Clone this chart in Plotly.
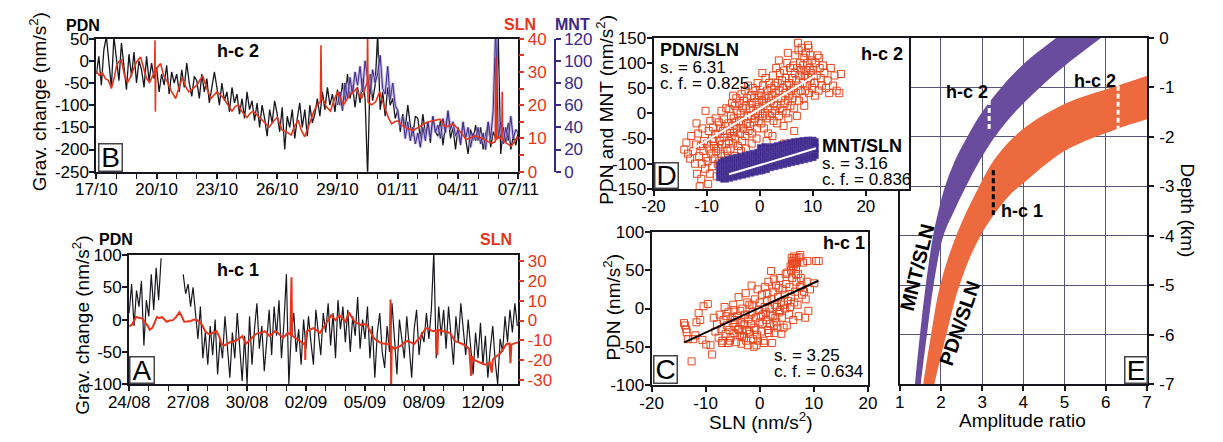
import pandas as pd
import plotly.graph_objects as go

W, H = 1223, 442
FONT = "Liberation Sans, Arial, Helvetica, sans-serif"
BLACK = "#16161e"
RED = "#e8341a"
PURPLE_DARK = "#3b2886"
PURPLE_HALO = "#b3a3da"
SCAT_ORANGE = "#e9471e"
SCAT_PURPLE = "#3f2a8c"
SCAT_PURPLE_EDGE = "#5a46a2"
BAND_PURPLE = "#6a4c9e"
BAND_ORANGE = "#ec6a3e"
GRID = "#56567c"


def px(x):
    return x / W


def py(y):
    return 1 - y / H


# ------------------------------------------------------------------ data
# Panel B (h-c 2): 17/10 - 07/11, PDN every 3 h
b_start = "2012-10-17"
b_pdn = [
    -30, 10, -55, 25, 55, -10, -60, 55,
    5, -45, 40, -20, -65, 15, -35, 20,
    -50, 0, -20, -60, 10, -45, -5, -40,
    -15, -70, -30, -55, -10, -75, -25, -50,
    -30, -70, -20, -60, -5, -50, -80, -35,
    -45, -85, -30, -70, -40, -95, -55, -25,
    -60, -100, -50, -90, -70, -115, -60, -95,
    -75, -120, -85, -130, -70, -110, -90, -135,
    -95, -150, -100, -130, -170, -110, -140, -90,
    -120, -160, -105, -200, -125, -150, -110, -175,
    -130, -95, -150, -110, -170, -100, -140, -120,
    -85, -125, -70, -110, -60, -100, -75, -115,
    -65, -100, -50, -90, -30, -85, -55, -105,
    -60, -95, -40, -85, -260, -30, -90, -55,
    60, -110, -70, -125, -60, -100, -85, -130,
    -110, -160, -120, -150, -100, -145, -170, -125,
    -130, -175, -120, -165, -140, -185, -125, -160,
    -170, -135, -190, -145, -120, -175, -150, -200,
    -150, -190, -140, -175, -210, -155, -180, -145,
    -180, -150, -200, -165, -140, -195, -160, -175,
    60, -210, -150, -185, -140, -200, -170, -190,
    -160,
]
b_sln_days = [
    0.00, 0.15, 0.30, 0.45, 0.60, 0.75, 0.90, 1.00, 1.10, 1.25, 1.40, 1.55, 1.70, 1.85,
    2.00, 2.20, 2.35, 2.50, 2.65, 2.80, 2.90, 2.92, 2.94, 2.96, 3.05, 3.20, 3.35, 3.55,
    3.75, 3.95, 4.10, 4.28, 4.45, 4.60, 4.80, 5.00, 5.15, 5.30, 5.50, 5.70, 5.85, 6.00,
    6.20, 6.35, 6.55, 6.75, 6.90, 7.07, 7.25, 7.50, 7.65, 7.80, 8.00, 8.20, 8.40, 8.60,
    8.80, 9.00, 9.25, 9.45, 9.70, 9.85, 10.05, 10.20, 10.37, 10.55, 10.70, 10.85, 11.00,
    11.15, 11.18, 11.21, 11.30, 11.45, 11.65, 11.80, 12.00, 12.15, 12.30, 12.45, 12.60,
    12.80, 12.95, 13.10, 13.20, 13.35, 13.42, 13.48, 13.50, 13.52, 13.60, 13.70, 13.90,
    14.10, 14.25, 14.40, 14.55, 14.70, 14.85, 15.00, 15.20, 15.35, 15.55, 15.80, 16.05,
    16.30, 16.55, 16.80, 17.10, 17.25, 17.40, 17.60, 17.75, 17.90, 18.05, 18.25, 18.40,
    18.55, 18.70, 18.85, 19.00, 19.20, 19.35, 19.50, 19.70, 19.85, 19.88, 19.91, 20.00,
    20.10, 20.18, 20.20, 20.22, 20.40, 20.55, 20.65, 20.80, 20.95, 21.00,
]
b_sln = [
    30.2, 29.0, 29.8, 28.0, 27.5, 25.0, 28.5, 31.6, 33.0, 33.6, 29.0, 26.8, 28.5, 31.0,
    33.0, 34.5, 31.0, 28.0, 26.8, 28.5, 30.0, 39.5, 18.0, 30.0, 31.5, 32.5, 29.0, 26.8,
    24.0, 22.0, 25.0, 28.3, 25.5, 24.0, 25.0, 26.0, 27.5, 28.8, 25.0, 22.0, 23.0, 24.0,
    23.0, 22.0, 20.0, 18.2, 19.5, 20.1, 18.0, 16.3, 17.5, 18.2, 17.0, 15.8, 14.5, 13.4,
    15.0, 16.3, 12.5, 12.0, 11.0, 13.5, 15.5, 12.5, 10.5, 13.5, 16.3, 18.5, 20.1,
    21.0, 38.0, 22.0, 21.5, 19.5, 18.2, 21.0, 24.0, 22.0, 20.1, 21.5, 23.0,
    24.0, 25.0, 23.0, 22.0, 24.5, 25.9, 27.0, 45.0, 21.0, 20.5, 20.1, 21.0,
    24.0, 21.0, 18.2, 16.0, 14.4, 15.0, 15.3, 14.0, 13.4, 12.8, 12.5, 13.5,
    14.4, 15.0, 15.3, 15.8, 14.5, 13.4, 14.0, 14.4, 13.5, 12.5, 11.0, 9.6,
    10.0, 10.5, 10.8, 10.5, 10.0, 9.6, 9.0, 8.6, 9.0, 34.5, 9.5, 10.5,
    10.0, 10.5, 24.0, 9.5, 8.6, 8.0, 7.7, 9.0, 10.5, 10.5,
]
b_mnt_start_day = 12
b_mnt = [
    60, 72, 55, 80, 66, 85, 70, 90,
    78, 95, 72, 100, 85, 70, 92, 80,
    88, 105, 75, 70, 95, 65, 80, 60,
    55, 40, 50, 30, 45, 28, 40, 25,
    35, 22, 40, 28, 45, 30, 50, 35,
    42, 30, 48, 35, 55, 38, 45, 32,
    38, 25, 45, 30, 40, 22, 35, 28,
    40, 25, 35, 20, 45, 30, 55, 130,
    30, 45, 25, 40, 28, 50, 30, 38,
    35,
]
b_tick_days = [0, 3, 6, 9, 12, 15, 18, 21]
b_tick_labels = ["17/10", "20/10", "23/10", "26/10", "29/10", "01/11", "04/11", "07/11"]
b_pdn_ticks = [-250, -200, -150, -100, -50, 0, 50]
b_sln_ticks = [0, 10, 20, 30, 40]
b_mnt_ticks = [0, 20, 40, 60, 80, 100, 120]

# Panel A (h-c 1): 24/08 - 12/09, PDN every 3 h (None = gap)
a_start = "2012-08-24"
a_pdn = [
    10, 55, -10, 45, 20, 60, -40, 30,
    5, 70, 15, 80, 30, 95, None, None,
    None, None, None, None, None, None, 70, 40,
    55, 20, 50, 10, -30, 20, -60, -20,
    -70, -10, -55, 0, -85, -30, -60, 5,
    -40, -90, -20, -60, 10, -50, -95, -25,
    -100, 5, -70, -15, 25, -45, -10, -80,
    -30, 15, -55, 20, -25, 30, -60, -5,
    70, -100, -20, 10, -50, -15, -70, 0,
    -45, 5, -35, -70, 15, -25, -55, 10,
    -20, 25, -40, 10, -60, 30, -15, 20,
    -35, 15, -50, 5, -25, 35, -45, 0,
    -30, 20, -60, -10, -90, -20, 10, -50,
    -75, -10, -50, 25, -40, -85, 0, -30,
    -60, 5, -45, -90, -15, 15, -55, -20,
    -35, 10, -30, 15, 105, -60, 20, -25,
    15, -45, 20, -20, -70, 5, -35, 25,
    -15, -55, 0, -40, -85, -20, -60, -5,
    -70, -25, -90, -45, -10, -65, -100, -30,
    -50, 5, -35, 15, -20, 25, -10,
]
a_sln_days = [
    0.00, 0.15, 0.35, 0.50, 0.67, 0.80, 0.92, 1.05, 1.17, 1.30, 1.41, 1.55, 1.66, 1.80,
    1.90, 2.05, 2.23, 2.40, 2.56, 2.68, 2.80, 2.95, 3.13, 3.30, 3.46, 3.60, 3.71, 3.87,
    4.00, 4.12, 4.28, 4.45, 4.60, 4.70, 4.85, 5.10, 5.25, 5.43, 5.60, 5.76, 5.93, 6.10,
    6.26, 6.42, 6.58, 6.75, 6.91, 7.05, 7.16, 7.30, 7.41, 7.55, 7.65, 7.82, 7.95, 8.06,
    8.20, 8.26, 8.29, 8.40, 8.55, 8.72, 8.88, 8.95, 8.96, 8.98, 9.04, 9.20, 9.37, 9.55,
    9.70, 9.85, 10.00, 10.15, 10.28, 10.40, 10.50, 10.60, 10.69, 10.85, 11.00, 11.10,
    11.18, 11.30, 11.50, 11.65, 11.77, 11.95, 12.10, 12.25, 12.42, 12.60, 12.75, 12.92,
    13.08, 13.25, 13.30, 13.33, 13.36, 13.50, 13.65, 13.83, 14.00, 14.16, 14.33, 14.50,
    14.65, 14.80, 14.95, 15.10, 15.25, 15.45, 15.60, 15.68, 15.72, 15.95, 16.10, 16.30,
    16.45, 16.55, 16.75, 16.96, 17.15, 17.30, 17.40, 17.44, 17.55, 17.70, 17.88, 18.05,
    18.20, 18.35, 18.45, 18.50, 18.55, 18.70, 18.87, 19.05, 19.20, 19.35, 19.40, 19.45,
    19.60, 19.78,
]
a_sln = [
    -3.0, -2.0, 1.8, 1.5, 1.0, -1.0, -2.2, -4.6, -3.8, -1.0, 1.8, 1.2, 1.8, 0.5,
    -0.6, 0.0, 0.2, 2.0, 4.2, 2.0, -0.6, -0.5, -0.2, 0.5, 0.2, -1.0, -2.2, -5.4,
    -6.5, -7.0, -6.0, -5.4, -8.5, -11.8, -12.5, -11.0, -10.5, -10.2, -9.0, -7.8, -11.8, -10.0,
    -8.6, -7.0, -6.2, -6.0, -5.4, -6.5, -7.8, -6.5, -5.4, -6.0, -7.0, -8.6, -7.5, -6.2,
    -7.0, 21.8, -7.5, -8.5, -9.4, -10.5, -11.8, -11.0, -19.8, -10.0, -5.4, -4.5, -3.8, -5.0,
    -6.2, -4.0, -1.4, 0.5, 2.6, 1.0, 0.2, 1.5, 2.6, 1.0, -0.6, 2.0,
    4.2, 2.0, -0.9, -1.5, -2.2, -1.8, -2.2, -5.0, -8.6, -10.0, -11.0, -11.5,
    -11.8, -12.0, 10.6, -32.5, -13.0, -14.2, -13.5, -12.6, -11.0, -10.2, -11.0, -11.8,
    -10.0, -8.6, -6.0, -3.8, -4.2, -5.4, -5.0, -17.4, -4.6, -5.4, -5.5, -6.2,
    -8.0, -10.2, -11.0, -11.8, -13.0, -14.2, -27.8, -18.0, -19.8, -20.5, -21.4, -22.0,
    -22.2, -21.0, -26.2, -20.0, -19.0, -18.0, -16.6, -14.0, -11.8, -11.5, -21.4, -12.0,
    -11.5, -11.0,
]
a_tick_days = [0, 3, 6, 9, 12, 15, 18]
a_tick_labels = ["24/08", "27/08", "30/08", "02/09", "05/09", "08/09", "12/09"]
a_pdn_ticks = [-100, -50, 0, 50, 100]
a_sln_ticks = [-30, -20, -10, 0, 10, 20, 30]

# Panel D (h-c 2 scatter): PDN vs SLN and MNT vs SLN
d_pdn_x = [
    -14.2, -13.8, -13.5, -13.1, -12.9, -12.5, -12.2, -12.0,
    -11.9, -11.8, -11.6, -11.4, -11.3, -11.1, -11.0, -10.9, -10.8, -10.6, -10.5, -10.3, -10.2, -10.1,
    -9.9, -9.8, -9.7, -9.6, -9.5, -9.4, -9.3, -9.1, -9.0, -8.9, -8.8, -8.7, -8.6, -8.5, -8.4, -8.3, -8.2, -8.1,
    -7.9, -7.9, -7.8, -7.7, -7.6, -7.5, -7.4, -7.3, -7.2, -7.1, -7.0, -6.9, -6.8, -6.7, -6.6, -6.6, -6.5, -6.4, -6.3, -6.2, -6.1,
    -5.9, -5.8, -5.7, -5.6, -5.6, -5.5, -5.4, -5.3, -5.2, -5.1, -5.0, -5.0, -4.9, -4.8, -4.7, -4.6, -4.6, -4.5, -4.4, -4.3, -4.2, -4.1,
    -3.9, -3.8, -3.7, -3.6, -3.5, -3.5, -3.4, -3.3, -3.2, -3.1, -3.0, -2.9, -2.8, -2.7, -2.6, -2.6, -2.5, -2.4, -2.3, -2.2, -2.1,
    -1.9, -1.8, -1.7, -1.6, -1.5, -1.5, -1.4, -1.3, -1.2, -1.1, -1.0, -0.9, -0.8, -0.7, -0.6, -0.6, -0.5, -0.4, -0.3, -0.2, -0.1,
    0.1, 0.2, 0.3, 0.4, 0.5, 0.5, 0.6, 0.7, 0.8, 0.9, 1.0, 1.1, 1.2, 1.3, 1.3, 1.4, 1.5, 1.6, 1.7, 1.8, 1.9,
    2.1, 2.2, 2.3, 2.4, 2.4, 2.5, 2.6, 2.7, 2.8, 2.9, 3.0, 3.1, 3.2, 3.3, 3.4, 3.5, 3.6, 3.6, 3.7, 3.8, 3.9,
    4.1, 4.2, 4.3, 4.4, 4.5, 4.6, 4.6, 4.7, 4.8, 4.9, 5.0, 5.1, 5.2, 5.3, 5.3, 5.4, 5.5, 5.6, 5.7, 5.8, 5.9,
    6.1, 6.2, 6.3, 6.4, 6.5, 6.5, 6.6, 6.7, 6.8, 6.9, 7.0, 7.1, 7.2, 7.2, 7.3, 7.4, 7.5, 7.6, 7.7, 7.8, 7.9,
    8.1, 8.2, 8.3, 8.4, 8.4, 8.5, 8.6, 8.7, 8.8, 8.9, 9.0, 9.1, 9.1, 9.2, 9.3, 9.4, 9.5, 9.6, 9.7, 9.8, 9.9,
    10.1, 10.3, 10.4, 10.5, 10.7, 10.9, 11.1, 11.2, 11.3, 11.5, 11.7, 11.9,
    12.2, 12.5, 12.8, 13.1, 13.4, 13.8, 14.1, 14.5, 15.0, 15.3,
]
d_pdn_y = [
    -72, -58, -80, -90, -45, -75, -100, -62,
    -20, -120, -40, -85, -145, -65, -130, -100, -30, -75, -55, -110, 5, -88,
    -60, -95, -140, -35, -70, -120, -15, -80, -50, -105, -28, -55, -65, -90, -42, -10, -75, -125,
    -40, -100, -70, -18, -95, -55, -30, -80, 5, -62, -110, -35, -48, -12, -85, -120, -25, -60, 10, -40, -75,
    -20, -55, 8, -35, -95, -70, -5, -45, 20, -25, -60, 35, -10, -38, 15, -50, -85, -18, 30, -30, 5, -65,
    -15, 20, -40, 0, -22, -75, 38, -55, 10, -30, 25, -8, 45, -45, 15, -70, -20, 30, -5, 55, -35,
    10, -25, 35, -5, 20, -60, -40, 50, 5, -18, 30, -10, 45, 0, 22, -50, -30, 60, 12, -15, 35,
    5, 40, -20, 25, -5, 80, 55, 15, -30, 35, 0, 70, 20, -10, -55, 45, 10, -40, 30, 60, -5,
    25, 50, 0, 35, -45, 75, -15, 20, 55, 5, 40, 90, 15, -20, 60, 30, -5, 105, 45, 80, 10,
    30, 65, 5, 50, -25, 85, -60, 20, 40, 70, 0, 55, 100, 25, 120, -10, 60, 35, 90, 15, 45,
    70, 30, 95, 50, 10, -35, 80, 115, 40, 65, -5, 90, 55, 140, 125, 25, 75, 100, 45, 85, 130,
    60, 95, 30, 110, 15, 75, 45, 120, 85, 55, 100, 70, 135, 130, 40, 90, 115, 65, 80, 105, 50,
    85, 60, 35, 100, 75, 115, 45, 110, 90, 70, 55, 95,
    80, 50, 65, 40, 90, 55, 75, 45, 40, 78,
]
d_mnt_x = [
    -7.4, -7.4, -7.4, -7.0, -7.0, -7.0, -6.6, -6.6, -6.6, -6.6, -6.2, -6.2, -6.2,
    -5.8, -5.8, -5.8, -5.8, -5.4, -5.4, -5.4, -5.0, -5.0, -5.0, -5.0, -4.6, -4.6, -4.6,
    -4.2, -4.2, -4.2, -4.2, -3.8, -3.8, -3.8, -3.4, -3.4, -3.4, -3.4, -3.0, -3.0, -3.0,
    -2.6, -2.6, -2.6, -2.6, -2.2, -2.2, -2.2, -1.8, -1.8, -1.8, -1.8, -1.4, -1.4, -1.4,
    -1.0, -1.0, -1.0, -1.0, -0.6, -0.6, -0.6, -0.2, -0.2, -0.2, -0.2,
    0.3, 0.3, 0.3, 0.3, 0.7, 0.7, 0.7, 1.1, 1.1, 1.1, 1.1, 1.5, 1.5, 1.5,
    1.9, 1.9, 1.9, 1.9, 2.3, 2.3, 2.3, 2.7, 2.7, 2.7, 2.7, 3.1, 3.1, 3.1,
    3.5, 3.5, 3.5, 3.5, 3.9, 3.9, 3.9, 4.3, 4.3, 4.3, 4.3, 4.7, 4.7, 4.7,
    5.1, 5.1, 5.1, 5.1, 5.5, 5.5, 5.5, 5.9, 5.9, 5.9, 5.9, 6.3, 6.3, 6.3,
    6.7, 6.7, 6.7, 6.7, 7.1, 7.1, 7.1, 7.5, 7.5, 7.5, 7.5, 7.9, 7.9, 7.9,
    8.3, 8.3, 8.3, 8.3, 8.7, 8.7, 8.7, 9.1, 9.1, 9.1, 9.1, 9.5, 9.5, 9.5,
    9.9, 9.9, 9.9, 9.9, 10.3, 10.3, 10.3,
]
d_mnt_y = [
    -126, -115, -104, -126, -112, -99, -129, -119, -106, -96, -124, -110, -96,
    -127, -116, -104, -93, -122, -109, -95, -125, -114, -102, -91, -120, -107, -94,
    -123, -112, -100, -89, -118, -105, -92, -121, -110, -98, -87, -116, -103, -90,
    -119, -108, -96, -85, -114, -101, -88, -117, -106, -94, -83, -112, -99, -86,
    -115, -104, -92, -81, -110, -97, -84, -113, -102, -90, -79,
    -112, -98, -84, -70, -108, -94, -78, -110, -96, -82, -68, -104, -90, -76,
    -106, -94, -82, -70, -102, -89, -76, -104, -92, -80, -68, -100, -87, -74,
    -102, -90, -78, -66, -98, -85, -72, -100, -88, -76, -64, -96, -83, -70,
    -98, -86, -74, -62, -94, -81, -68, -96, -84, -72, -60, -92, -79, -66,
    -94, -82, -70, -58, -90, -77, -64, -92, -80, -68, -57, -88, -75, -62,
    -90, -78, -66, -56, -86, -73, -60, -88, -76, -64, -55, -84, -71, -59,
    -86, -74, -62, -55, -82, -70, -58,
]
d_pdn_fit_x = [-12.55, 10.6]
d_pdn_fit_y = [-70.3, 75.8]
d_mnt_fit_x = [-5.76, 10.6]
d_mnt_fit_y = [-121.0, -69.3]
d_x_ticks = [-20, -10, 0, 10, 20]
d_y_ticks = [-150, -100, -50, 0, 50, 100, 150]

# Panel C (h-c 1 scatter): PDN vs SLN
c_x = [
    -14.0, -13.8, -13.6, -13.5, -13.3, -12.6, -12.3, -11.9, -11.7, -11.3, -11.0, -10.6, -10.4, -9.9, -9.6, -9.1, -8.8, -8.5, -8.2, -7.9,
    -7.6, -7.4, -7.1, -7.0, -6.9, -6.7, -6.5, -6.3, -6.2, -6.1, -5.9, -5.8, -5.6, -5.5, -5.4, -5.2, -5.0, -4.9, -4.8, -4.7,
    -4.6, -4.5, -4.4, -4.2, -4.0, -3.9, -3.8, -3.7, -3.6, -3.5, -3.4, -3.3, -3.2, -3.0, -2.9, -2.8, -2.7, -2.6, -2.5, -2.4,
    -2.3, -2.2, -2.1, -2.0, -1.9, -1.8, -1.7, -1.6, -1.5, -1.4, -1.3, -1.2, -1.1, -1.0, -0.9, -0.8, -0.7, -0.6, -0.5, -0.4,
    -0.3, -0.2, 0.0, 0.1, 0.2, 0.3, 0.4, 0.5, 0.6, 0.7, 0.8, 0.9, 1.0, 1.1, 1.2, 1.3, 1.4, 1.5, 1.6, 1.7,
    1.8, 1.9, 2.0, 2.1, 2.2, 2.3, 2.4, 2.5, 2.6, 2.6, 2.7, 2.8, 2.9, 3.0, 3.1, 3.2, 3.3, 3.4, 3.5, 3.6,
    3.7, 3.8, 3.9, 4.0, 4.1, 4.2, 4.4, 4.5, 4.6, 4.7, 4.8, 4.9, 5.0, 5.1, 5.2, 5.4, 5.5, 5.6, 5.7, 5.8,
    5.9, 6.0, 6.1, 6.2, 6.3, 6.4, 6.4, 6.5, 6.6, 6.7, 6.7, 6.8, 6.9, 7.0, 7.1, 7.2, 7.3, 7.4, 7.6, 7.7,
    7.8, 8.0, 8.2, 8.4, 8.5, 8.7, 8.8, 9.0, 9.3, 10.1, 10.4, 10.9, 6.2, 6.5, 6.8, 7.5, 5.8, 6.0,
]
c_y = [
    -19, -22, -27, -31, -40, -69, -40, -35, -18, -6, -15, -41, 3, -47, 6, -48, -60, -12, -30, -20,
    -38, -8, -27, -45, -42, -15, 2, -33, -10, -22, -45, -5, -28, -42, -38, -12, -19, 5, -2, -32,
    -15, -24, -44, -10, -27, 15, -28, -35, -3, -18, -46, -36, 0, -22, -38, -20, -8, 20, -42, -28,
    8, -48, -14, -30, 5, -33, -8, -20, 30, 5, -5, -40, -50, -25, 12, -28, -12, -48, -35, 25,
    -42, -2, -18, 8, -10, -30, 18, -20, -8, -42, -45, 2, 28, -5, -15, 10, 20, -28, 35, -32,
    0, -20, -8, 49, 12, -45, -10, 22, -22, 38, -32, 5, -12, 30, -18, 2, -25, 15, 27, -5,
    40, -2, 8, -33, -12, 25, -25, 5, 18, 0, 45, 32, -22, 47, 10, -8, 28, 2, 55, 15,
    66, 40, 62, -15, 68, 58, 8, 22, 64, 52, 45, 35, 60, 5, 45, -10, 67, 28, 40, 30,
    18, 60, 22, -12, 12, 35, 62, -3, 25, 33, 62, 62, 55, 60, 66, 70, 50, 58,
]
c_fit_x = [-13.95, 10.85]
c_fit_y = [-44.2, 36.3]
c_x_ticks = [-20, -10, 0, 10, 20]
c_y_ticks = [-100, -50, 0, 50, 100]

# Panel E: amplitude ratio vs source depth bands
e_mnt_depth = [0.4, 0.0, -0.55, -1.0, -1.5, -2.0, -2.5, -3.0, -3.5, -4.0, -5.0, -6.0, -7.0, -7.5]
e_mnt_left = [5.45, 4.80, 3.98, 3.47, 3.00, 2.64, 2.33, 2.10, 1.94, 1.81, 1.63, 1.49, 1.37, 1.32]
e_mnt_right = [6.55, 5.89, 5.03, 4.41, 3.80, 3.31, 2.93, 2.61, 2.32, 2.06, 1.82, 1.66, 1.51, 1.45]
e_pdn_upper_depth = [-0.3, -0.77, -0.97, -1.32, -1.84, -2.4, -3.0, -4.0, -5.0, -6.0, -7.0, -7.5]
e_pdn_upper_x = [8.6, 7.0, 6.29, 5.05, 4.0, 3.35, 2.93, 2.37, 1.98, 1.76, 1.57, 1.49]
e_pdn_lower_depth = [-1.3, -1.65, -1.84, -2.29, -2.94, -3.19, -4.0, -5.0, -6.0, -7.0, -7.5]
e_pdn_lower_x = [8.3, 7.0, 6.29, 5.0, 4.0, 3.66, 2.96, 2.45, 2.13, 1.84, 1.72]
e_mark_x = [3.17, 6.30, 3.27]
e_mark_top = [-1.26, -0.97, -2.68]
e_mark_bottom = [-1.87, -1.84, -3.58]
e_mark_color = ["white", "white", "black"]
e_x_ticks = [1, 2, 3, 4, 5, 6, 7]
e_y_ticks = [-7, -6, -5, -4, -3, -2, -1, 0]

# axis ranges (layout)
D_XRANGE = [-20, 28.2]
D_YRANGE = [-150, 150]

# ------------------------------------------------------------------ helpers
DAY_MS = 86400000


def days_to_dates(start, days):
    t0 = pd.Timestamp(start)
    return [(t0 + pd.Timedelta(days=d)).strftime("%Y-%m-%d %H:%M:%S") for d in days]


def regular_dates(start, n, offset_days=0):
    t0 = pd.Timestamp(start) + pd.Timedelta(days=offset_days)
    return [t.strftime("%Y-%m-%d %H:%M:%S") for t in pd.date_range(t0, periods=n, freq="3h")]


def labels(vals):
    return [str(v) for v in vals]


tickfont = dict(family=FONT, size=17, color="black")
box_axis = dict(showline=True, linecolor=BLACK, linewidth=2, mirror=True, ticks="outside",
                ticklen=5, tickwidth=1.5, tickcolor=BLACK, showgrid=False, zeroline=False,
                tickfont=tickfont)
XSTAND = -4   # tick labels sit close to the axis, as in the reference
YSTAND = -3

fig = go.Figure()

# ---- Panel E (xy) ----
fig.add_trace(go.Scatter(
    x=e_mnt_left + e_mnt_right[::-1], y=e_mnt_depth + e_mnt_depth[::-1],
    fill="toself", fillcolor=BAND_PURPLE, mode="lines", line=dict(width=0, shape="spline"),
    xaxis="x", yaxis="y", hoverinfo="skip"))
fig.add_trace(go.Scatter(
    x=e_pdn_upper_x + e_pdn_lower_x[::-1], y=e_pdn_upper_depth + e_pdn_lower_depth[::-1],
    fill="toself", fillcolor=BAND_ORANGE, mode="lines", line=dict(width=0, shape="spline"),
    xaxis="x", yaxis="y", hoverinfo="skip"))
for mx, mt, mb, mc in zip(e_mark_x, e_mark_top, e_mark_bottom, e_mark_color):
    fig.add_trace(go.Scatter(x=[mx, mx], y=[mt, mb], mode="lines",
                             line=dict(color=mc, width=3, dash="5px,3px"),
                             xaxis="x", yaxis="y", hoverinfo="skip"))

# ---- Panel B ----
fig.add_trace(go.Scatter(x=regular_dates(b_start, len(b_pdn)), y=b_pdn, mode="lines",
                         line=dict(color=BLACK, width=1.3), xaxis="x2", yaxis="y2", hoverinfo="skip"))
b_mnt_t = regular_dates(b_start, len(b_mnt), b_mnt_start_day)
fig.add_trace(go.Scatter(x=b_mnt_t, y=b_mnt, mode="lines",
                         line=dict(color=PURPLE_HALO, width=3), opacity=0.75,
                         xaxis="x2", yaxis="y3", hoverinfo="skip"))
fig.add_trace(go.Scatter(x=b_mnt_t, y=b_mnt, mode="lines",
                         line=dict(color=PURPLE_DARK, width=1), xaxis="x2", yaxis="y3", hoverinfo="skip"))
fig.add_trace(go.Scatter(x=days_to_dates(b_start, b_sln_days), y=b_sln, mode="lines",
                         line=dict(color=RED, width=1.6), xaxis="x2", yaxis="y4", hoverinfo="skip"))

# ---- Panel A ----
fig.add_trace(go.Scatter(x=regular_dates(a_start, len(a_pdn)), y=a_pdn, mode="lines",
                         line=dict(color=BLACK, width=1.2), xaxis="x3", yaxis="y5", hoverinfo="skip"))
fig.add_trace(go.Scatter(x=days_to_dates(a_start, a_sln_days), y=a_sln, mode="lines",
                         line=dict(color=RED, width=2), xaxis="x3", yaxis="y6", hoverinfo="skip"))

# ---- Panel C ----
fig.add_trace(go.Scatter(x=c_x, y=c_y, mode="markers",
                         marker=dict(symbol="square-open", size=7, color=SCAT_ORANGE, line=dict(width=1)),
                         xaxis="x4", yaxis="y7", hoverinfo="skip"))
fig.add_trace(go.Scatter(x=c_fit_x, y=c_fit_y, mode="lines", line=dict(color="black", width=2),
                         xaxis="x4", yaxis="y7", hoverinfo="skip"))

# ---- Panel D (its white background hides panel E's grid underneath) ----
fig.add_trace(go.Scatter(x=[D_XRANGE[0], D_XRANGE[1], D_XRANGE[1], D_XRANGE[0]],
                         y=[D_YRANGE[0], D_YRANGE[0], D_YRANGE[1], D_YRANGE[1]],
                         fill="toself", fillcolor="white", mode="none",
                         xaxis="x5", yaxis="y8", hoverinfo="skip"))
fig.add_trace(go.Scatter(x=d_pdn_x, y=d_pdn_y, mode="markers",
                         marker=dict(symbol="square-open", size=7, color=SCAT_ORANGE, line=dict(width=1)),
                         xaxis="x5", yaxis="y8", hoverinfo="skip"))
fig.add_trace(go.Scatter(x=d_mnt_x, y=d_mnt_y, mode="markers",
                         marker=dict(symbol="square", size=8, color=SCAT_PURPLE,
                                     line=dict(width=0.6, color=SCAT_PURPLE_EDGE)),
                         xaxis="x5", yaxis="y8", hoverinfo="skip"))
fig.add_trace(go.Scatter(x=d_pdn_fit_x, y=d_pdn_fit_y, mode="lines", line=dict(color="white", width=2),
                         xaxis="x5", yaxis="y8", hoverinfo="skip"))
fig.add_trace(go.Scatter(x=d_mnt_fit_x, y=d_mnt_fit_y, mode="lines", line=dict(color="white", width=2),
                         xaxis="x5", yaxis="y8", hoverinfo="skip"))

# ------------------------------------------------------------------ axes
layout_axes = dict(
    # E
    xaxis=dict(box_axis, domain=[px(910), px(1166)], anchor="y", range=[1, 7],
               tickmode="array", tickvals=e_x_ticks, ticktext=labels(e_x_ticks),
               showgrid=True, gridcolor=GRID, gridwidth=1, ticklabelstandoff=XSTAND),
    yaxis=dict(box_axis, domain=[py(392), py(30)], anchor="x", range=[-7, 0], side="right",
               tickmode="array", tickvals=e_y_ticks, ticktext=labels(e_y_ticks),
               showgrid=True, gridcolor=GRID, gridwidth=1, ticklabelstandoff=2),
    # B
    xaxis2=dict(box_axis, domain=[px(78), px(515)], anchor="y2", type="date",
                range=days_to_dates(b_start, [0, 21]), ticklabelstandoff=XSTAND,
                tickmode="array", tickvals=days_to_dates(b_start, b_tick_days), ticktext=b_tick_labels,
                minor=dict(ticks="outside", ticklen=5, tickwidth=1.2, tickcolor=BLACK,
                           dtick=DAY_MS, tick0=b_start, showgrid=False)),
    yaxis2=dict(box_axis, domain=[py(170), py(31)], anchor="x2", range=[-250, 50],
                ticklabelstandoff=YSTAND,
                tickmode="array", tickvals=b_pdn_ticks, ticktext=labels(b_pdn_ticks)),
    yaxis3=dict(overlaying="y2", side="right", anchor="free", position=px(553), range=[0, 120],
                showline=True, linecolor=PURPLE_DARK, linewidth=1.5, ticks="outside", ticklen=5,
                tickwidth=1.5, tickcolor=PURPLE_DARK, showgrid=False, zeroline=False,
                tickmode="array", tickvals=b_mnt_ticks, ticktext=labels(b_mnt_ticks),
                tickfont=dict(family=FONT, size=17, color=PURPLE_DARK)),
    yaxis4=dict(overlaying="y2", side="right", anchor="x2", range=[0, 40],
                showline=False, ticks="outside", ticklen=5, tickwidth=1.5, tickcolor=RED,
                showgrid=False, zeroline=False,
                tickmode="array", tickvals=b_sln_ticks, ticktext=labels(b_sln_ticks),
                minor=dict(ticks="outside", ticklen=5, tickwidth=1.5, tickcolor=RED, dtick=5, showgrid=False),
                tickfont=dict(family=FONT, size=17, color=RED)),
    # A
    xaxis3=dict(box_axis, domain=[px(112), px(515)], anchor="y5", type="date",
                range=days_to_dates(a_start, [0, 19.8]), ticklabelstandoff=XSTAND,
                tickmode="array", tickvals=days_to_dates(a_start, a_tick_days), ticktext=a_tick_labels,
                minor=dict(ticks="outside", ticklen=5, tickwidth=1.2, tickcolor=BLACK,
                           dtick=DAY_MS, tick0=a_start, showgrid=False)),
    yaxis5=dict(box_axis, domain=[py(392), py(257)], anchor="x3", range=[-100, 100],
                ticklabelstandoff=YSTAND,
                tickmode="array", tickvals=a_pdn_ticks, ticktext=labels(a_pdn_ticks)),
    yaxis6=dict(overlaying="y5", side="right", anchor="x3", range=[-32, 33],
                showline=False, ticks="outside", ticklen=5, tickwidth=1.5, tickcolor=RED,
                showgrid=False, zeroline=False,
                tickmode="array", tickvals=a_sln_ticks, ticktext=labels(a_sln_ticks),
                tickfont=dict(family=FONT, size=17, color=RED)),
    # C
    xaxis4=dict(box_axis, domain=[px(653), px(877)], anchor="y7", range=[-20, 20],
                ticklabelstandoff=XSTAND,
                tickmode="array", tickvals=c_x_ticks, ticktext=labels(c_x_ticks)),
    yaxis7=dict(box_axis, domain=[py(393), py(233)], anchor="x4", range=[-100, 100],
                ticklabelstandoff=YSTAND,
                tickmode="array", tickvals=c_y_ticks, ticktext=labels(c_y_ticks)),
    # D
    xaxis5=dict(box_axis, domain=[px(655), px(920)], anchor="y8", range=D_XRANGE,
                ticklabelstandoff=XSTAND,
                tickmode="array", tickvals=d_x_ticks, ticktext=labels(d_x_ticks)),
    yaxis8=dict(box_axis, domain=[py(188), py(30)], anchor="x5", range=D_YRANGE,
                ticklabelstandoff=YSTAND,
                tickmode="array", tickvals=d_y_ticks, ticktext=labels(d_y_ticks)),
)

# ------------------------------------------------------------------ texts
anns = []


def text(t, x, y, size=17, bold=False, color="black", xanchor="center", angle=0,
         xref="paper", yref="paper"):
    if bold:
        t = "<b>" + t + "</b>"
    if xref == "paper":
        x = px(x)
    if yref == "paper":
        y = py(y)
    anns.append(dict(text=t, x=x, y=y, xref=xref, yref=yref, xanchor=xanchor, yanchor="middle",
                     textangle=angle, showarrow=False,
                     font=dict(family=FONT, size=size, color=color)))


def letter(ch, x0, y0, x1, y1):
    anns.append(dict(text=ch, x=px(x0), y=py(y1), xref="paper", yref="paper",
                     xanchor="left", yanchor="bottom", width=x1 - x0 - 2, height=y1 - y0 - 2,
                     align="center", valign="middle", showarrow=False, bgcolor="white",
                     bordercolor="#444444", borderwidth=1.5, borderpad=0,
                     font=dict(family=FONT, size=28, color="black")))


# axis titles
text("Grav. change (nm/s<sup>2</sup>)", 17, 97, size=19, angle=-90)
text("Grav. change (nm/s<sup>2</sup>)", 62, 330, size=19, angle=-90)
text("PDN and MNT (nm/s<sup>2</sup>)", 605, 105, size=19, angle=-90)
text("PDN (nm/s<sup>2</sup>)", 612, 311, size=19, angle=-90)
text("SLN (nm/s<sup>2</sup>)", 766, 430, size=19)
text("Amplitude ratio", 1037, 430, size=19)
text("Depth (km)", 1208, 210, size=19, angle=90)

# panel B labels
text("PDN", 64, 17, size=16, bold=True)
text("SLN", 517, 16, size=16, bold=True, color=RED)
text("MNT", 571, 16, size=16, bold=True, color=PURPLE_DARK)
text("h-c 2", 225, 44, size=18, bold=True)
# panel A labels
text("PDN", 98, 241, size=16, bold=True)
text("SLN", 492, 241, size=16, bold=True, color=RED)
text("h-c 1", 225, 273, size=18, bold=True)
# panel D labels
text("PDN/SLN", 660, 43, size=18, bold=True, xanchor="left")
text("s. = 6.31", 660, 61, size=17, xanchor="left")
text("c. f. = 0.825", 660, 78, size=17, xanchor="left")
text("h-c 2", 892, 47, size=18, bold=True)
text("MNT/SLN", 827, 143, size=18, bold=True, xanchor="left")
text("s. = 3.16", 827, 161, size=17, xanchor="left")
text("c. f. = 0.836", 827, 178, size=17, xanchor="left")
# panel C labels
text("h-c 1", 852, 245, size=18, bold=True)
text("s. = 3.25", 778, 362, size=17, xanchor="left")
text("c. f. = 0.634", 778, 379, size=17, xanchor="left")
# panel E labels (data coordinates)
text("h-c 2", 2.63, -1.09, size=18, bold=True, xref="x", yref="y")
text("h-c 2", 5.75, -0.87, size=18, bold=True, xref="x", yref="y")
text("h-c 1", 3.97, -3.51, size=18, bold=True, xref="x", yref="y")
text("MNT/SLN", 1.43, -4.64, size=20, bold=True, angle=-76, xref="x", yref="y")
text("PDN/SLN", 2.46, -5.77, size=20, bold=True, angle=-71, xref="x", yref="y")

# panel letters
letter("B", 80, 142, 104, 170)
letter("A", 112, 365, 137, 392)
letter("D", 656, 162, 680, 188)
letter("C", 654, 364, 678, 392)
letter("E", 1142, 365, 1165, 392)

fig.update_layout(
    width=W, height=H, autosize=False,
    margin=dict(l=0, r=0, t=0, b=0),
    paper_bgcolor="white", plot_bgcolor="white",
    showlegend=False, hovermode=False,
    font=dict(family=FONT, size=17, color="black"),
    annotations=anns,
    **layout_axes,
)

fig.write_html(
    "out.html",
    config={"displayModeBar": False},
    post_script="document.body.style.margin='0px';document.documentElement.style.overflow='hidden';",
)
